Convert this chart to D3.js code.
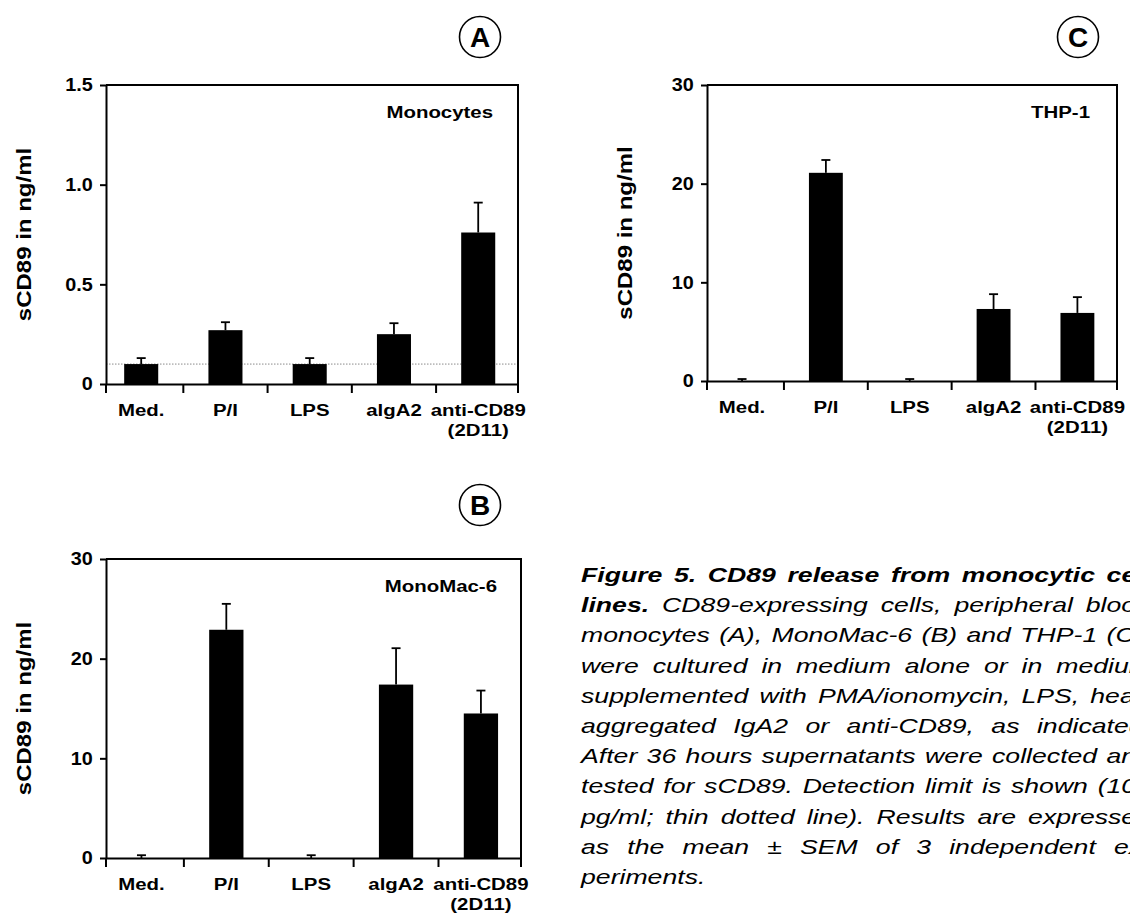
<!DOCTYPE html>
<html>
<head>
<meta charset="utf-8">
<script src="https://cdn.jsdelivr.net/npm/d3@7"></script>
<title>Figure 5. CD89 release from monocytic cell lines</title>
<style>
body {
	margin: 0;
	background: white;
}
svg {
	display: block;
}
text {
	font-family: "Liberation Sans", Arial, Helvetica, sans-serif;
	fill: black;
}
</style>
</head>
<body>
<div id="figure"></div>
<script>

// -- data

var categories = ["Med.", "P/I", "LPS", "algA2", "anti-CD89"];
var subLabels = ["", "", "", "", "(2D11)"];

// A: peripheral blood monocytes, ng/ml
var monoValues = [0.10, 0.27, 0.10, 0.25, 0.76];
var monoErrors = [0.03, 0.04, 0.03, 0.055, 0.15];
var monoTicks = [0, 0.5, 1.0, 1.5];
var detectionLimit = 0.1;

// B: MonoMac-6, ng/ml
var mmValues = [0.0, 22.9, 0.0, 17.4, 14.5];
var mmErrors = [0.28, 2.6, 0.28, 3.65, 2.3];

// C: THP-1, ng/ml
var thpValues = [0.0, 21.1, 0.0, 7.3, 6.9];
var thpErrors = [0.2, 1.3, 0.2, 1.5, 1.6];

var countTicks = [0, 10, 20, 30];

var yTitle = "sCD89 in ng/ml";

var captionLines = [
	"Figure 5. CD89 release from monocytic cell",
	"lines. CD89-expressing cells, peripheral blood",
	"monocytes (A), MonoMac-6 (B) and THP-1 (C),",
	"were cultured in medium alone or in medium",
	"supplemented with PMA/ionomycin, LPS, heat-",
	"aggregated IgA2 or anti-CD89, as indicated.",
	"After 36 hours supernatants were collected and",
	"tested for sCD89. Detection limit is shown (100",
	"pg/ml; thin dotted line). Results are expressed",
	"as the mean \u00b1 SEM of 3 independent ex-",
	"periments."
];
// number of bold words at the start of each caption line
var captionBold = [7, 1, 0, 0, 0, 0, 0, 0, 0, 0, 0];

// -- setting

var W = 1130, H = 918;
var font = '"Liberation Sans", Arial, Helvetica, sans-serif';

var svg = d3.select("#figure")
	.append("svg")
		.attr("width", W)
		.attr("height", H);

// the original lettering is wider than Arial, so text is stretched a bit
function stretched(sel, sx) {
	return sel.attr("transform", function() {
		var t = d3.select(this).attr("data-pos").split(",");
		return "translate(" + t[0] + "," + t[1] + ") scale(" + sx + ",1)";
	});
}

function drawPanel(p) {
	var g = svg.append("g");

	var y = d3.scaleLinear()
		.domain([0, p.ticks[p.ticks.length - 1]])
		.range([p.bottom, p.top]);

	var x = d3.scaleBand()
		.domain(categories)
		.range([p.left, p.right])
		.paddingInner(0.596)
		.paddingOuter(0.243)
		.align(0.444);

	var bw = x.bandwidth();
	var step = x.step();

	// detection limit (thin dotted line)
	if (p.limit != null) {
		g.append("line")
			.attr("x1", p.left)
			.attr("x2", p.right)
			.attr("y1", y(p.limit))
			.attr("y2", y(p.limit))
			.attr("stroke", "#8a8a8a")
			.attr("stroke-width", 1)
			.attr("stroke-dasharray", "1.5,1.5");
	}

	// bars
	g.selectAll(".bar")
		.data(p.values)
		.enter()
		.append("rect")
			.attr("class", "bar")
			.attr("x", (d, i) => x(categories[i]))
			.attr("width", bw)
			.attr("y", d => y(d))
			.attr("height", d => y(0) - y(d))
			.attr("fill", "black");

	// error bars (upper whisker only)
	var err = g.selectAll(".err")
		.data(p.values)
		.enter()
		.append("g")
			.attr("class", "err")
			.attr("stroke", "black")
			.attr("stroke-width", 1.8);
	err.append("line")
		.attr("x1", (d, i) => x(categories[i]) + bw / 2)
		.attr("x2", (d, i) => x(categories[i]) + bw / 2)
		.attr("y1", d => y(d))
		.attr("y2", (d, i) => y(d + p.errors[i]));
	err.append("line")
		.attr("x1", (d, i) => x(categories[i]) + bw / 2 - 4.5)
		.attr("x2", (d, i) => x(categories[i]) + bw / 2 + 4.5)
		.attr("y1", (d, i) => y(d + p.errors[i]))
		.attr("y2", (d, i) => y(d + p.errors[i]));

	// y axis
	var ya = g.append("g")
		.attr("transform", "translate(" + p.left + ",0)")
		.call(d3.axisLeft(y)
			.tickValues(p.ticks)
			.tickFormat(p.format)
			.tickSize(6)
			.tickPadding(6)
			.tickSizeOuter(0));
	ya.selectAll("path, line")
		.attr("stroke", "black")
		.attr("stroke-width", 2);
	ya.selectAll("text")
		.attr("fill", "black")
		.style("font-family", font)
		.style("font-size", "18px")
		.style("font-weight", "bold")
		.attr("transform", "scale(1.1,1)");

	// frame: top and right edges
	g.append("path")
		.attr("d", "M" + p.left + "," + y.range()[1] + "H" + p.right + "V" + y.range()[0])
		.attr("fill", "none")
		.attr("stroke", "black")
		.attr("stroke-width", 2);

	// x axis with ticks between the groups
	var xa = g.append("g")
		.attr("transform", "translate(0," + p.bottom + ")")
		.call(d3.axisBottom(x).tickSize(0).tickSizeOuter(0).tickFormat(""));
	xa.select(".domain")
		.attr("stroke", "black")
		.attr("stroke-width", 2);

	var bounds = [p.left].concat(categories.slice(0, -1).map(c => x(c) + bw + (step - bw) / 2), [p.right]);
	g.selectAll(".xtick")
		.data(bounds)
		.enter()
		.append("line")
			.attr("class", "xtick")
			.attr("x1", d => d)
			.attr("x2", d => d)
			.attr("y1", p.bottom)
			.attr("y2", p.bottom + 9)
			.attr("stroke", "black")
			.attr("stroke-width", 2);

	// category labels
	stretched(g.selectAll(".cat")
		.data(categories)
		.enter()
		.append("text")
			.attr("class", "cat")
			.attr("data-pos", d => (x(d) + bw / 2) + "," + (p.bottom + 32))
			.attr("text-anchor", "middle")
			.style("font-size", "17px")
			.style("font-weight", "bold")
			.text(d => d), 1.2);

	stretched(g.selectAll(".sub")
		.data(categories.filter((c, i) => subLabels[i]))
		.enter()
		.append("text")
			.attr("class", "sub")
			.attr("data-pos", d => (x(d) + bw / 2) + "," + (p.bottom + 52))
			.attr("text-anchor", "middle")
			.style("font-size", "17px")
			.style("font-weight", "bold")
			.text(d => subLabels[categories.indexOf(d)]), 1.2);

	// y axis title
	g.append("text")
		.attr("transform", "translate(" + (p.left - 75) + "," + ((p.top + p.bottom) / 2) +
			") rotate(-90) scale(1.2,1)")
		.attr("text-anchor", "middle")
		.style("font-size", "20px")
		.style("font-weight", "bold")
		.text(yTitle);

	// cell type inside the frame
	stretched(g.append("text")
		.attr("data-pos", p.nameX + "," + (p.top + 33))
		.attr("text-anchor", "end")
		.style("font-size", "17px")
		.style("font-weight", "bold")
		.text(p.name), 1.2);

	// circled panel letter
	g.append("circle")
		.attr("cx", p.letterX)
		.attr("cy", p.letterY)
		.attr("r", 20.5)
		.attr("fill", "none")
		.attr("stroke", "black")
		.attr("stroke-width", 1.6);
	g.append("text")
		.attr("x", p.letterX)
		.attr("y", p.letterY + 10)
		.attr("text-anchor", "middle")
		.style("font-size", "28px")
		.style("font-weight", "bold")
		.text(p.letter);
}

var oneDecimal = d => d === 0 ? "0" : d3.format(".1f")(d);
var integer = d3.format("d");

drawPanel({
	left: 106, right: 518, top: 85, bottom: 384,
	values: monoValues, errors: monoErrors, ticks: monoTicks, format: oneDecimal,
	limit: detectionLimit,
	name: "Monocytes", nameX: 493,
	letter: "A", letterX: 480, letterY: 37
});

drawPanel({
	left: 106, right: 521, top: 559, bottom: 858,
	values: mmValues, errors: mmErrors, ticks: countTicks, format: integer,
	limit: null,
	name: "MonoMac-6", nameX: 497,
	letter: "B", letterX: 480, letterY: 505
});

drawPanel({
	left: 707, right: 1117, top: 85, bottom: 381,
	values: thpValues, errors: thpErrors, ticks: countTicks, format: integer,
	limit: null,
	name: "THP-1", nameX: 1090,
	letter: "C", letterX: 1078, letterY: 37
});

// -- caption (justified, running off the right edge like the original)

var capX = 581, capY = 582, capLead = 30.2, capSx = 1.3;
var capWidth = 570 / capSx;

var cap = svg.append("g")
	.attr("transform", "translate(" + capX + "," + capY + ") scale(" + capSx + ",1)")
	.style("font-size", "20.5px")
	.style("font-style", "italic");

captionLines.forEach(function(line, li) {
	var words = line.split(" ");
	var t = cap.append("text")
		.attr("y", li * capLead);
	var spans = words.map(function(w, wi) {
		return t.append("tspan")
			.style("font-weight", wi < captionBold[li] ? "bold" : "normal")
			.text(w);
	});
	var widths = spans.map(s => s.node().getComputedTextLength());
	var total = d3.sum(widths);
	var last = li === captionLines.length - 1;
	var gap = last ? 5.7 : (capWidth - total) / (words.length - 1);
	var pos = 0;
	spans.forEach(function(s, wi) {
		s.attr("x", pos);
		pos += widths[wi] + gap;
	});
});

</script>
</body>
</html>
